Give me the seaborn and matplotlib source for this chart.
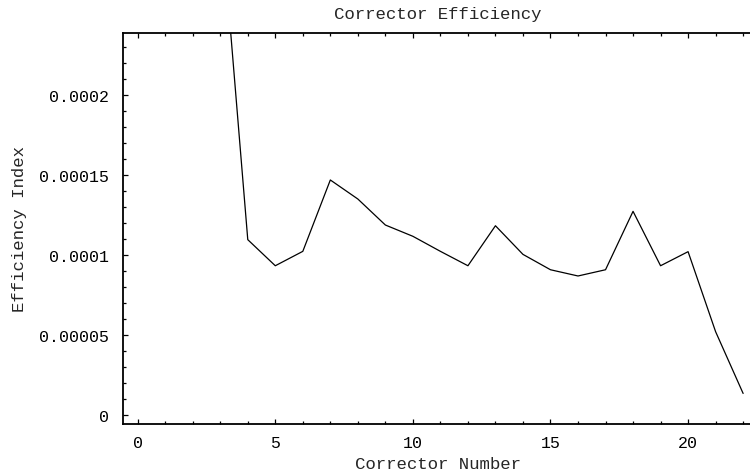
import matplotlib
matplotlib.use("Agg")
import matplotlib.pyplot as plt
import seaborn as sns
import pandas as pd
from matplotlib.ticker import MultipleLocator, FixedLocator, FixedFormatter

# Data
corrector = [3, 4, 5, 6, 7, 8, 9, 10, 11, 12, 13, 14, 15, 16, 17, 18, 19, 20, 21, 22]
efficiency = [3.18e-4, 1.096e-4, 9.33e-5, 1.023e-4, 1.469e-4, 1.35e-4, 1.1875e-4,
              1.117e-4, 1.023e-4, 9.33e-5, 1.183e-4, 1.004e-4, 9.08e-5, 8.69e-5,
              9.08e-5, 1.273e-4, 9.33e-5, 1.021e-4, 5.21e-5, 1.35e-5]
x_ticks = [0, 5, 10, 15, 20]
y_ticks = [0, 0.00005, 0.0001, 0.00015, 0.0002]
y_tick_labels = ["0", "0.00005", "0.0001", "0.00015", "0.0002"]

sns.set_style("ticks")
plt.rcParams['font.family'] = ['Liberation Mono', 'DejaVu Sans Mono']

df = pd.DataFrame({"Corrector Number": corrector, "Efficiency Index": efficiency})

fig = plt.figure(figsize=(7.5, 4.77), dpi=100)
ax = fig.add_axes([122.7 / 750, 1 - 425 / 477, 1 - 122.7 / 750, 391 / 477])

sns.lineplot(data=df, x="Corrector Number", y="Efficiency Index", ax=ax,
             color="black", linewidth=0.9)

ax.set_xlim(-0.545, 22.25)
ax.set_ylim(-5.6e-6, 2.3875e-4)

ax.xaxis.set_major_locator(FixedLocator(x_ticks))
ax.xaxis.set_minor_locator(MultipleLocator(1))
ax.yaxis.set_major_locator(FixedLocator(y_ticks))
ax.yaxis.set_major_formatter(FixedFormatter(y_tick_labels))
ax.yaxis.set_minor_locator(MultipleLocator(0.00001))

ax.tick_params(which="both", direction="in", top=True, right=False,
               colors="black", labelsize=12, width=0.9)
ax.tick_params(which="major", length=3.5)
ax.tick_params(axis="y", which="major", pad=10)
ax.tick_params(axis="x", which="major", pad=8)
ax.tick_params(which="minor", length=2.3)

for side in ["left", "bottom", "top"]:
    ax.spines[side].set_visible(True)
    ax.spines[side].set_linewidth(1.3)
    ax.spines[side].set_color("black")
ax.spines["right"].set_visible(False)

ax.set_xlabel("Corrector Number", fontsize=12.5)
ax.set_ylabel("Efficiency Index", fontsize=12.5)
ax.xaxis.set_label_coords((438 - 122.7) / 627.3, (425 - 465) / 391)
ax.xaxis.label.set_verticalalignment("center")
ax.yaxis.set_label_coords((20 - 122.7) / 627.3, (425 - 229) / 391)
ax.yaxis.label.set_verticalalignment("center")

fig.text(438 / 750, 1 - 14 / 477, "Corrector Efficiency", ha="center", va="center",
         fontsize=12.5)

fig.savefig("out.png", dpi=100, facecolor="white")
